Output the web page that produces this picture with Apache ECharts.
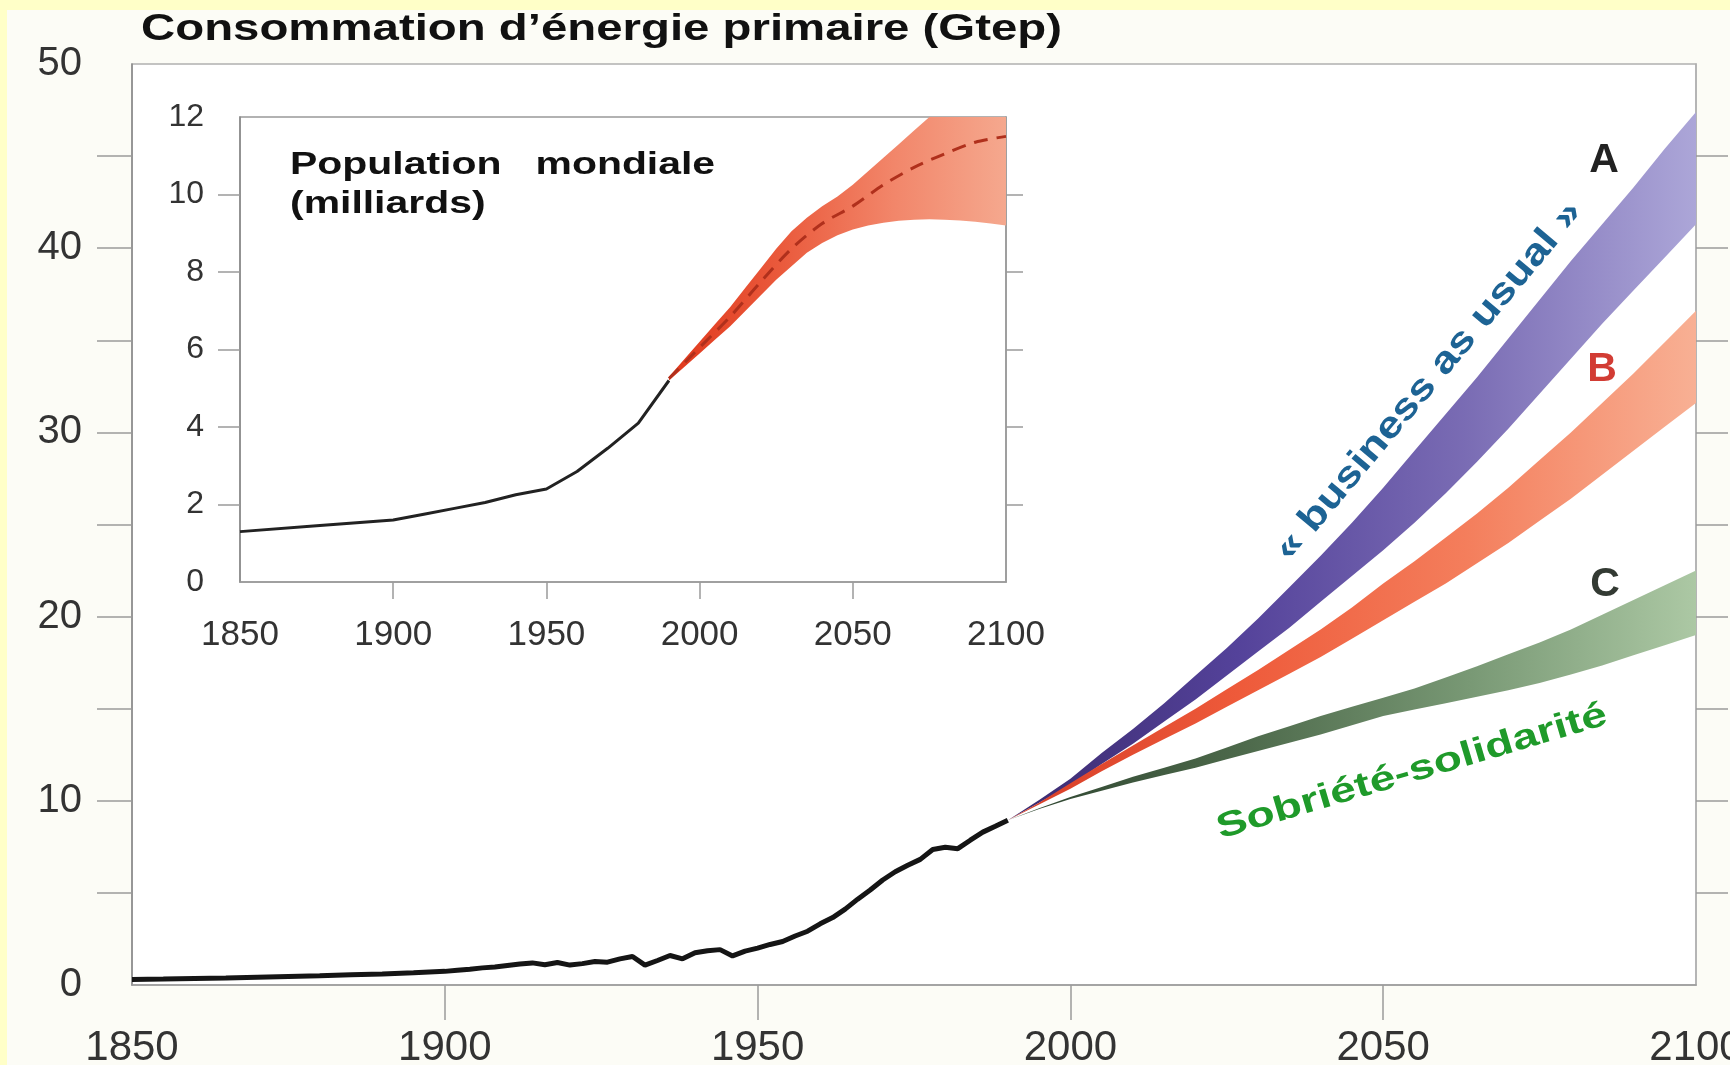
<!DOCTYPE html>
<html>
<head>
<meta charset="utf-8">
<script src="https://cdn.jsdelivr.net/npm/echarts@6/dist/echarts.min.js"></script>
<style>
html,body{margin:0;padding:0;background:#ffffc8;}
#chart{width:1730px;height:1065px;}
</style>
</head>
<body>
<div id="chart"></div>
<script>
// ---------- Data ----------
const energyYears = [1850,1855,1860,1865,1870,1875,1880,1885,1890,1895,1900,1902,1904,1906,1908,1910,1912,1914,1916,1918,1920,1922,1924,1926,1928,1930,1932,1934,1936,1938,1940,1942,1944,1946,1948,1950,1952,1954,1956,1958,1960,1962,1964,1966,1968,1970,1972,1974,1976,1978,1980,1982,1984,1986,1988,1990];
const energyValues = [0.30,0.32,0.35,0.38,0.42,0.46,0.50,0.55,0.60,0.66,0.74,0.80,0.86,0.93,0.98,1.06,1.14,1.20,1.10,1.22,1.08,1.16,1.28,1.24,1.42,1.55,1.08,1.33,1.60,1.42,1.75,1.86,1.92,1.58,1.84,2.00,2.20,2.36,2.66,2.92,3.32,3.66,4.12,4.66,5.16,5.70,6.15,6.50,6.82,7.36,7.48,7.40,7.86,8.30,8.62,8.95];

const scenarioYears = [1990,1995,2000,2005,2010,2015,2020,2025,2030,2035,2040,2045,2050,2055,2060,2065,2070,2075,2080,2085,2090,2095,2100];
const aLow  = [8.95,9.9,10.85,12.0,13.1,14.3,15.5,16.8,18.1,19.4,20.8,22.2,23.6,25.1,26.7,28.4,30.2,32.1,34.0,35.9,37.7,39.5,41.3];
const aHigh = [8.95,10.05,11.2,12.6,13.9,15.3,16.8,18.3,19.9,21.6,23.3,25.1,27.0,29.0,31.0,33.0,35.1,37.2,39.3,41.3,43.3,45.4,47.4];
const bLow  = [8.95,9.8,10.65,11.6,12.5,13.35,14.2,15.1,16.0,16.9,17.8,18.8,19.8,20.8,21.8,22.9,24.0,25.2,26.4,27.7,29.0,30.3,31.6];
const bHigh = [8.95,9.9,10.95,12.0,13.0,14.0,15.0,16.05,17.1,18.2,19.3,20.5,21.8,23.0,24.3,25.6,27.0,28.5,30.0,31.6,33.2,34.9,36.6];
const cLow  = [8.95,9.55,10.1,10.55,11.0,11.4,11.8,12.25,12.7,13.15,13.6,14.1,14.6,14.95,15.3,15.65,16.0,16.4,16.85,17.35,17.9,18.45,19.0];
const cHigh = [8.95,9.6,10.2,10.75,11.3,11.8,12.3,12.9,13.5,14.05,14.6,15.1,15.6,16.1,16.7,17.3,17.95,18.6,19.3,20.1,20.9,21.7,22.5];

const popYears  = [1850,1875,1900,1910,1920,1930,1940,1950,1960,1970,1980,1990];
const popValues = [1.3,1.45,1.6,1.75,1.9,2.05,2.25,2.4,2.85,3.45,4.1,5.2];
const popProjYears = [1990,1995,2000,2005,2010,2015,2020,2025,2030,2035,2040,2045,2050,2055,2060,2065,2070,2075,2080,2085,2090,2095,2100];
const popLow    = [5.2,5.55,5.9,6.25,6.6,7.0,7.4,7.8,8.15,8.5,8.75,8.95,9.1,9.2,9.27,9.32,9.35,9.36,9.35,9.33,9.3,9.25,9.2];
const popHigh   = [5.3,5.75,6.2,6.65,7.1,7.6,8.1,8.6,9.05,9.4,9.7,9.95,10.25,10.6,10.95,11.3,11.65,12.0,12.3,12.5,12.6,12.7,12.8];
const popMedianYears = [1990,2000,2010,2020,2030,2040,2050,2060,2070,2080,2090,2100];
const popMedian = [5.25,6.05,6.85,7.75,8.6,9.25,9.7,10.25,10.7,11.05,11.35,11.5];

const mainYTickLabels = [0,10,20,30,40,50];
const mainYTicks = [5,10,15,20,25,30,35,40,45];
const mainXTicks = [1900,1950,2000,2050];
const insetYTickLabels = [0,2,4,6,8,10,12];
const insetYTicks = [2,4,6,8,10];

// ---------- Helpers ----------
const pairs = (xs, ys) => xs.map((x, i) => [x, ys[i]]);
const FONT = '"Liberation Sans", Arial, Helvetica, sans-serif';
const grad = (stops) => new echarts.graphic.LinearGradient(0, 0, 1, 0,
  stops.map((c, i) => ({offset: i / (stops.length - 1), color: c})));

function band(name, xs, lo, hi, xi, yi, colors) {
  return {
    name: name, type: 'custom', xAxisIndex: xi, yAxisIndex: yi, silent: true, z: 3,
    data: xs.map((x, i) => [x, lo[i], hi[i]]),
    encode: {x: 0, y: [1, 2]},
    renderItem: function (params, api) {
      if (params.dataIndex !== 0) return null;
      const top = xs.map((x, i) => api.coord([x, hi[i]]));
      const bot = xs.map((x, i) => api.coord([x, lo[i]])).reverse();
      const cs = params.coordSys;
      return {
        type: 'polygon',
        shape: {points: top.concat(bot)},
        style: {fill: grad(colors), stroke: null},
        clipPath: {type: 'rect', shape: {x: cs.x, y: cs.y, width: cs.width, height: cs.height}}
      };
    }
  };
}

const axisGrey = '#9a9a9a';
const yearFmt = v => String(v);

const chart = echarts.init(document.getElementById('chart'), null, {renderer: 'canvas'});
const option = {
  animation: false,
  backgroundColor: '#fcfcf6',
  grid: [
    {left: 132, top: 64, width: 1564, height: 921, show: true, backgroundColor: '#ffffff',
     borderColor: '#b0b0b0', borderWidth: 1.5, outerBoundsMode: 'none', containLabel: false},
    {left: 240, top: 117, width: 766, height: 465, show: true, backgroundColor: '#ffffff',
     borderColor: '#999999', borderWidth: 1.5, outerBoundsMode: 'none', containLabel: false}
  ],
  xAxis: [
    {gridIndex: 0, type: 'value', min: 1850, max: 2100, interval: 50,
     axisLine: {show: true, onZero: false, lineStyle: {color: axisGrey, width: 1.5}},
     axisTick: {show: true, inside: false, length: 35, customValues: mainXTicks, lineStyle: {color: axisGrey, width: 1.5}},
     axisLabel: {margin: 42, fontSize: 42, color: '#333', fontFamily: FONT, formatter: yearFmt},
     splitLine: {show: false}},
    {gridIndex: 1, type: 'value', min: 1850, max: 2100, interval: 50,
     axisLine: {show: true, onZero: false, lineStyle: {color: axisGrey, width: 1.5}},
     axisTick: {show: true, inside: false, length: 17, customValues: mainXTicks, lineStyle: {color: axisGrey, width: 1.5}},
     axisLabel: {margin: 36, fontSize: 35, color: '#333', fontFamily: FONT, formatter: yearFmt},
     splitLine: {show: false}}
  ],
  yAxis: [
    {gridIndex: 0, type: 'value', min: 0, max: 50, interval: 5,
     axisLine: {show: true, onZero: false, lineStyle: {color: '#888', width: 1.5}},
     axisTick: {show: true, inside: false, length: 35, customValues: mainYTicks, lineStyle: {color: axisGrey, width: 1.5}},
     axisLabel: {margin: 50, fontSize: 40, color: '#333', fontFamily: FONT, customValues: mainYTickLabels},
     splitLine: {show: false}},
    {gridIndex: 0, type: 'value', min: 0, max: 50, interval: 5, position: 'right',
     axisLine: {show: true, onZero: false, lineStyle: {color: '#b0b0b0', width: 1.5}},
     axisTick: {show: true, inside: false, length: 32, customValues: mainYTicks, lineStyle: {color: axisGrey, width: 1.5}},
     axisLabel: {show: false}, splitLine: {show: false}},
    {gridIndex: 1, type: 'value', min: 0, max: 12, interval: 2,
     axisLine: {show: true, onZero: false, lineStyle: {color: '#888', width: 1.5}},
     axisTick: {show: true, inside: false, length: 22, customValues: insetYTicks, lineStyle: {color: axisGrey, width: 1.5}},
     axisLabel: {margin: 36, fontSize: 32, color: '#333', fontFamily: FONT, customValues: insetYTickLabels},
     splitLine: {show: false}},
    {gridIndex: 1, type: 'value', min: 0, max: 12, interval: 2, position: 'right',
     axisLine: {show: true, onZero: false, lineStyle: {color: '#999', width: 1.5}},
     axisTick: {show: true, inside: false, length: 17, customValues: insetYTicks, lineStyle: {color: axisGrey, width: 1.5}},
     axisLabel: {show: false}, splitLine: {show: false}}
  ],
  series: [
    band('A', scenarioYears, aLow, aHigh, 0, 0, ['#3a2a6e', '#54429a', '#7a6cb4', '#aca6d8']),
    band('B', scenarioYears, bLow, bHigh, 0, 0, ['#d63c26', '#ee5a3a', '#f47e5c', '#f8b094']),
    band('C', scenarioYears, cLow, cHigh, 0, 0, ['#2c422e', '#4c684a', '#789874', '#acc8a4']),
    {name: 'Consommation', type: 'line', xAxisIndex: 0, yAxisIndex: 0, data: pairs(energyYears, energyValues),
     showSymbol: false, lineStyle: {color: '#151515', width: 5}, z: 5},
    band('Pop', popProjYears, popLow, popHigh, 1, 2, ['#e0381c', '#ea5a3c', '#f2866a', '#f5a88e']),
    {name: 'Population', type: 'line', xAxisIndex: 1, yAxisIndex: 2, data: pairs(popYears, popValues),
     showSymbol: false, lineStyle: {color: '#222', width: 3}, z: 5},
    {name: 'Médiane', type: 'line', xAxisIndex: 1, yAxisIndex: 2, data: pairs(popMedianYears, popMedian),
     showSymbol: false, smooth: 0.3, lineStyle: {color: '#b0301c', width: 3, type: [14, 9]}, z: 5}
  ],
  graphic: [
    {type: 'rect', left: 0, top: 0, z: -10, silent: true,
     shape: {width: 1730, height: 10}, style: {fill: '#ffffc8'}},
    {type: 'rect', left: 0, top: 0, z: -10, silent: true,
     shape: {width: 7, height: 1065}, style: {fill: '#ffffc8'}},
    {type: 'text', x: 141, y: 30, scaleX: 1.28, z: 10, silent: true,
     style: {text: 'Consommation d’énergie primaire (Gtep)', fill: '#111', textAlign: 'left', textVerticalAlign: 'middle',
       font: 'bold 37px ' + FONT}},
    {type: 'text', x: 290, y: 165, scaleX: 1.32, z: 10, silent: true,
     style: {text: 'Population   mondiale', fill: '#111', textAlign: 'left', textVerticalAlign: 'middle',
       font: 'bold 31px ' + FONT}},
    {type: 'text', x: 290, y: 204, scaleX: 1.32, z: 10, silent: true,
     style: {text: '(milliards)', fill: '#111', textAlign: 'left', textVerticalAlign: 'middle',
       font: 'bold 31px ' + FONT}},
    {type: 'text', x: 1604, y: 161, z: 10, silent: true,
     style: {text: 'A', fill: '#222', textAlign: 'center', textVerticalAlign: 'middle', font: 'bold 41px ' + FONT}},
    {type: 'text', x: 1602, y: 370, z: 10, silent: true,
     style: {text: 'B', fill: '#d23c34', textAlign: 'center', textVerticalAlign: 'middle', font: 'bold 41px ' + FONT}},
    {type: 'text', x: 1605, y: 585, z: 10, silent: true,
     style: {text: 'C', fill: '#333a33', textAlign: 'center', textVerticalAlign: 'middle', font: 'bold 41px ' + FONT}},
    {type: 'text', x: 1429, y: 381, rotation: 50 * Math.PI / 180, scaleX: 1.2, z: 10, silent: true,
     style: {text: '« business as usual »', fill: '#1d6394', textAlign: 'center', textVerticalAlign: 'middle',
       font: 'bold 37px ' + FONT}},
    {type: 'text', x: 1412, y: 772, rotation: 16.5 * Math.PI / 180, scaleX: 1.32, z: 10, silent: true,
     style: {text: 'Sobriété-solidarité', fill: '#1f9a2a', textAlign: 'center', textVerticalAlign: 'middle',
       font: 'bold 35px ' + FONT}}
  ]
};
chart.setOption(option);
</script>
</body>
</html>
